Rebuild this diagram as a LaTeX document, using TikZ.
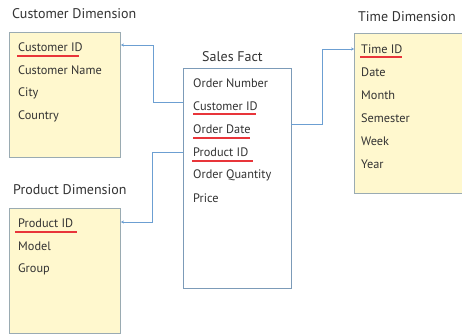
\documentclass[tikz,border=0pt]{standalone}
\usepackage{fontspec}
\setmainfont{PT Sans}
\usetikzlibrary{arrows.meta}
\definecolor{boxfill}{HTML}{FFF8CE}
\definecolor{dimedge}{HTML}{9AABB2}
\definecolor{factedge}{HTML}{7C9BB8}
\definecolor{linkblue}{HTML}{6C9FD2}
\definecolor{keyred}{HTML}{E8353A}
\definecolor{txt}{HTML}{333333}
\tikzset{
  table/.style={rectangle, inner sep=0pt, line width=0.9pt},
  dimbox/.style={table, draw=dimedge, fill=boxfill},
  factbox/.style={table, draw=factedge, fill=white},
  title/.style={anchor=west, inner sep=0pt, text=txt, font=\fontsize{14}{16}\selectfont},
  item/.style={anchor=west, inner sep=0pt, text=txt, font=\fontsize{12.3}{14}\selectfont},
  keyline/.style={draw=keyred, line width=1.1pt},
  link/.style={draw=linkblue, line width=0.9pt, -{Stealth[length=3pt,width=3pt]}},
}
\begin{document}
\begin{tikzpicture}[x=1pt,y=-1pt]
  \clip (0,0) rectangle (462,335);
  \fill[white] (0,0) rectangle (462,335);

  % dimension and fact tables
  \node[dimbox, minimum width=111.5pt, minimum height=125pt] (cust) at (64.75,94.5) {};
  \node[dimbox, minimum width=111.5pt, minimum height=125pt] (prod) at (64.75,270.5) {};
  \node[dimbox, minimum width=115.5pt, minimum height=160pt] (time) at (412.25,113) {};
  \node[factbox, minimum width=107.5pt, minimum height=220pt] (sale) at (237.25,178) {};

  % titles
  \node[title] (tcust) at (12,14) {Customer Dimension};
  \node[title] (tsale) at (202,57) {Sales Fact};
  \node[title] (ttime) at (358,17) {Time Dimension};
  \node[title] (tprod) at (13,190) {Product Dimension};

  % Customer Dimension
  \node[item] (c1) at (18,47) {Customer ID};
  \node[item] (c2) at (18,70) {Customer Name};
  \node[item] (c3) at (18,93) {City};
  \node[item] (c4) at (18,116) {Country};

  % Sales Fact
  \node[item] (s1) at (193,83) {Order Number};
  \node[item] (s2) at (193,106) {Customer ID};
  \node[item] (s3) at (193,129) {Order Date};
  \node[item] (s4) at (193,152) {Product ID};
  \node[item] (s5) at (193,175) {Order Quantity};
  \node[item] (s6) at (193,198) {Price};

  % Time Dimension
  \node[item] (t1) at (361,49) {Time ID};
  \node[item] (t2) at (361,72) {Date};
  \node[item] (t3) at (361,95) {Month};
  \node[item] (t4) at (361,118) {Semester};
  \node[item] (t5) at (361,141) {Week};
  \node[item] (t6) at (361,164) {Year};

  % Product Dimension
  \node[item] (p1) at (18,223) {Product ID};
  \node[item] (p2) at (18,246) {Model};
  \node[item] (p3) at (18,269) {Group};

  % key underlines
  \draw[keyline] (17,56) -- (79,56);
  \draw[keyline] (193,114) -- (256,114);
  \draw[keyline] (193,138) -- (250,138);
  \draw[keyline] (192,161) -- (253,161);
  \draw[keyline] (360,57) -- (402,57);
  \draw[keyline] (15,232) -- (77,232);

  % foreign key links
  \draw[link] (sale.west |- 0,102) -| (153,45) -- (cust.east |- 0,45);
  \draw[link] (sale.west |- 0,152) -| (152,222) -- (prod.east |- 0,222);
  \draw[link] (sale.east |- 0,124) -| (322.5,49) -- (time.west |- 0,49);
\end{tikzpicture}
\end{document}
